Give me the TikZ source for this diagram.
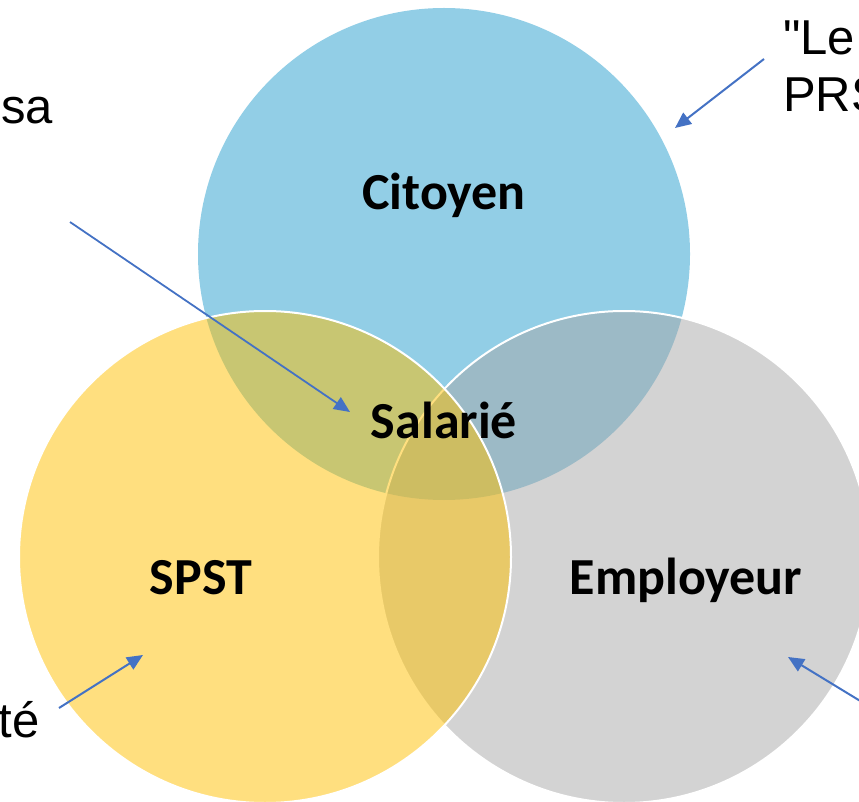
\documentclass[tikz,border=0pt]{standalone}
\usepackage{fontspec}
\newfontfamily\notefont{Liberation Sans}
\setsansfont{Carlito}
\usetikzlibrary{arrows.meta}
\definecolor{bleuciel}{HTML}{92CEE6}
\definecolor{grisemp}{HTML}{A7A7A7}
\definecolor{jaunespst}{HTML}{FFC000}
\definecolor{flechebleu}{HTML}{4472C4}
\tikzset{
  cercle/.style={draw=white, line width=2pt, fill opacity=0.5},
  titre/.style={font=\sffamily\bfseries\fontsize{52}{60}\selectfont, inner sep=0pt, anchor=base},
  note/.style={font=\notefont\fontsize{49}{57}\selectfont, inner sep=0pt},
  fleche/.style={draw=flechebleu, line width=2pt, -{Triangle[length=16pt,width=14pt]}}
}
\begin{document}
\begin{tikzpicture}[x=1pt,y=-1pt]
\useasboundingbox (0,0) rectangle (859,802);
\clip (0,0) rectangle (859,802);
% les trois cercles
\fill[bleuciel] (444,254) circle (246pt);
\draw[cercle, fill=grisemp] (624,557) circle (246pt);
\draw[cercle, fill=jaunespst] (265,557) circle (246pt);
% etiquettes
\node[titre] (citoyen) at (444,210) {Citoyen};
\node[titre] (salarie) at (444,438) {Salarié};
\node[titre] (spst) at (201,594) {SPST};
\node[titre] (employeur) at (686,594) {Employeur};
% textes en marge
\node[note, anchor=base east] (sa) at (53,124) {sa};
\node[note, anchor=base west] (le) at (783,55) {"Le};
\node[note, anchor=base west] (prs) at (783,112) {PRS};
\node[note, anchor=base east] (te) at (40,737) {té};
% fleches
\coordinate (d1) at (70,222);  \coordinate (p1) at (350,412);
\coordinate (d2) at (764,59);  \coordinate (p2) at (675,128);
\coordinate (d3) at (59,708);  \coordinate (p3) at (143,655);
\coordinate (d4) at (880,713); \coordinate (p4) at (788,657);
\draw[fleche, line width=1.8pt] (d1) -- (p1);
\draw[fleche] (d2) -- (p2);
\draw[fleche] (d3) -- (p3);
\draw[fleche] (d4) -- (p4);
\end{tikzpicture}
\end{document}
